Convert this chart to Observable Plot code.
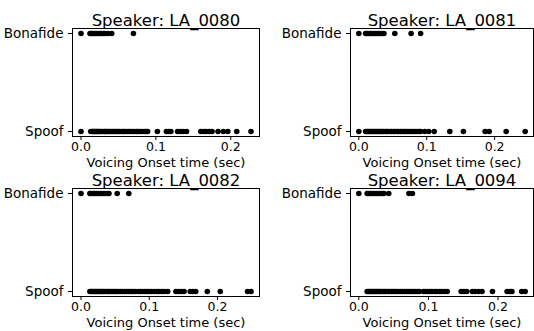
<!DOCTYPE html>
<html><head><meta charset="utf-8">
<script src="https://cdn.jsdelivr.net/npm/d3@7"></script>
<script src="https://cdn.jsdelivr.net/npm/@observablehq/plot@0.6"></script>
<style>
body{margin:0;background:#fff}
#c{position:relative;width:534px;height:331px;font-family:"DejaVu Sans",sans-serif;overflow:hidden}
#c svg{position:absolute;overflow:visible}
</style>
</head><body><div id="c"></div>
<script>
const speakers = ["LA_0080", "LA_0081", "LA_0082", "LA_0094"];
const classes = ["Bonafide", "Spoof"];
const xTicks = [0, 0.1, 0.2];
const xLabel = "Voicing Onset time (sec)";

const bonafide0080 = [0.0, 0.012, 0.014, 0.016, 0.018, 0.020, 0.022, 0.025, 0.027, 0.030, 0.032, 0.036, 0.041, 0.070];
const spoof0080 = [0.0, 0.013, 0.015, 0.016, 0.018, 0.019, 0.021, 0.022, 0.024, 0.025, 0.027, 0.029, 0.031, 0.032, 0.034, 0.036, 0.038, 0.040, 0.042, 0.044, 0.046, 0.048, 0.050, 0.052, 0.055, 0.057, 0.059, 0.062, 0.064, 0.066, 0.069, 0.071, 0.074, 0.076, 0.079, 0.082, 0.085, 0.087, 0.089, 0.102, 0.114, 0.117, 0.120, 0.129, 0.133, 0.137, 0.141, 0.160, 0.164, 0.167, 0.171, 0.175, 0.183, 0.190, 0.196, 0.208, 0.227];

const bonafide0081 = [0.0, 0.010, 0.012, 0.014, 0.017, 0.019, 0.022, 0.025, 0.028, 0.031, 0.034, 0.037, 0.053, 0.077, 0.091];
const spoof0081 = [0.0, 0.010, 0.012, 0.014, 0.016, 0.018, 0.020, 0.022, 0.024, 0.026, 0.028, 0.030, 0.032, 0.034, 0.036, 0.039, 0.041, 0.043, 0.046, 0.048, 0.051, 0.053, 0.056, 0.058, 0.061, 0.063, 0.066, 0.068, 0.071, 0.074, 0.077, 0.080, 0.083, 0.086, 0.089, 0.091, 0.097, 0.103, 0.111, 0.134, 0.154, 0.186, 0.192, 0.217, 0.245];

const bonafide0082 = [0.0, 0.013, 0.015, 0.018, 0.020, 0.023, 0.026, 0.029, 0.032, 0.035, 0.038, 0.041, 0.053, 0.070];
const spoof0082 = [0.013, 0.015, 0.017, 0.019, 0.021, 0.023, 0.025, 0.027, 0.029, 0.031, 0.033, 0.035, 0.038, 0.040, 0.042, 0.045, 0.047, 0.050, 0.052, 0.055, 0.058, 0.061, 0.064, 0.067, 0.070, 0.073, 0.076, 0.080, 0.084, 0.087, 0.090, 0.093, 0.096, 0.099, 0.103, 0.107, 0.111, 0.114, 0.118, 0.122, 0.127, 0.139, 0.143, 0.147, 0.151, 0.160, 0.164, 0.168, 0.185, 0.204, 0.244, 0.249];

const bonafide0094 = [0.0, 0.012, 0.014, 0.017, 0.019, 0.022, 0.025, 0.028, 0.031, 0.034, 0.036, 0.043, 0.072, 0.077];
const spoof0094 = [0.012, 0.014, 0.016, 0.018, 0.020, 0.022, 0.024, 0.026, 0.028, 0.030, 0.032, 0.035, 0.037, 0.039, 0.042, 0.044, 0.047, 0.049, 0.052, 0.054, 0.057, 0.060, 0.063, 0.066, 0.069, 0.072, 0.075, 0.078, 0.081, 0.084, 0.087, 0.093, 0.096, 0.099, 0.102, 0.105, 0.109, 0.112, 0.116, 0.119, 0.123, 0.127, 0.147, 0.151, 0.155, 0.163, 0.167, 0.172, 0.177, 0.192, 0.213, 0.217, 0.220, 0.234, 0.239];

const series = [
  [bonafide0080, spoof0080],
  [bonafide0081, spoof0081],
  [bonafide0082, spoof0082],
  [bonafide0094, spoof0094]
];

const layout = [
  {left: 0,   top: 0,   ml: 72, mr: 8},
  {left: 267, top: 0,   ml: 83, mr: 1},
  {left: 0,   top: 160, ml: 72, mr: 8},
  {left: 267, top: 160, ml: 83, mr: 1}
];

const container = document.getElementById("c");
speakers.forEach((spk, i) => {
  const rows = [];
  series[i].forEach((vals, k) => vals.forEach(v => rows.push({v, c: classes[k]})));
  const [lo, hi] = d3.extent(rows, d => d.v);
  const pad = (hi - lo) * 0.05;
  const L = layout[i];
  const chart = Plot.plot({
    width: 267,
    height: 170,
    marginLeft: L.ml,
    marginRight: L.mr,
    marginTop: 28,
    marginBottom: 34,
    style: {fontFamily: "DejaVu Sans, sans-serif", background: "transparent", color: "black"},
    x: {domain: [lo - pad, hi + pad]},
    y: {type: "point", domain: classes, padding: 0.05},
    marks: [
      Plot.frame({stroke: "black", strokeWidth: 1}),
      Plot.dot(rows, {x: "v", y: "c", r: 2.8, fill: "black", stroke: null}),
      Plot.axisX({ticks: xTicks, tickFormat: d3.format(".1f"), tickSize: 4, tickPadding: 2, fontSize: 12.5, label: null}),
      Plot.axisY({tickSize: 4, tickPadding: 5, fontSize: 13.5, label: null}),
      Plot.text([xLabel], {frameAnchor: "bottom", dy: 30, fontSize: 13, text: d => d}),
      Plot.text(["Speaker: " + spk], {frameAnchor: "top", dy: -3, lineAnchor: "bottom", fontSize: 16.5, text: d => d})
    ]
  });
  chart.style.left = L.left + "px";
  chart.style.top = L.top + "px";
  container.appendChild(chart);
});
</script>
</body></html>
